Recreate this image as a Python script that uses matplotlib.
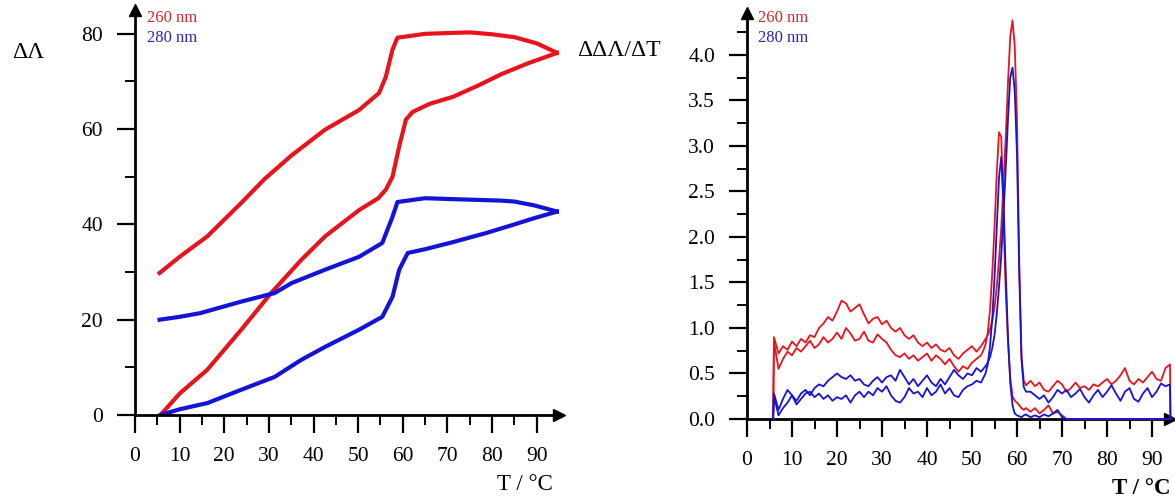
import numpy as np
import matplotlib
matplotlib.use("Agg")
import matplotlib.pyplot as plt

plt.rcParams['font.family'] = ['Liberation Serif', 'DejaVu Serif']

# left panel: absorbance change, heating and cooling runs
T_heat_260 = [5.7, 10, 16.2, 23.8, 30.5, 37.3, 42.6, 50.2, 54.5, 56.2, 57.7, 59.2, 60.7, 62.2, 66, 71.3, 77, 82, 88, 94.6]
A_heat_260 = [0, 4.5, 9.5, 17.9, 25.6, 32.6, 37.5, 43, 45.5, 47.3, 50, 56.4, 62, 63.6, 65.3, 66.8, 69.2, 71.5, 73.8, 76]
T_cool_260 = [94.6, 90, 85, 80, 75, 71.3, 65, 62, 58.8, 57.7, 56.2, 54.7, 50.2, 42.6, 35.1, 29, 23.8, 16.2, 10, 5.5]
A_cool_260 = [76, 78, 79.3, 79.9, 80.3, 80.2, 80, 79.6, 79.2, 76.7, 71, 67.6, 64, 59.9, 54.5, 49.5, 44.5, 37.5, 33.2, 29.8]
T_heat_280 = [5.7, 10, 16.2, 23.8, 31.3, 37.3, 42.6, 50.2, 55.4, 57.7, 59.2, 61.1, 65, 71.3, 78.7, 85, 89.4, 94.6]
A_heat_280 = [0, 1.2, 2.5, 5.3, 8.0, 11.6, 14.3, 17.9, 20.6, 24.8, 30.5, 34, 34.8, 36.3, 38.2, 40, 41.3, 42.7]
T_cool_280 = [94.6, 89.4, 85, 81.9, 71.3, 65, 58.8, 57.7, 55.4, 50.2, 42.6, 35.1, 31.3, 23.8, 14.7, 10, 5.5]
A_cool_280 = [42.7, 44, 44.8, 45, 45.3, 45.5, 44.7, 41.6, 36.1, 33.2, 30.5, 27.7, 25.6, 23.8, 21.4, 20.6, 20]

# right panel: first derivative, sampled on one temperature grid
T_d = np.concatenate([[5.8, 6.0], np.arange(7, 53), np.arange(52.5, 62.1, 0.5), np.arange(63, 95), [94.1]])

d_heat_260 = ([0.0, 0.90]
              + [0.72, 0.80, 0.76, 0.85, 0.80, 0.88, 0.84, 0.92, 0.90, 1.00,
                 1.05, 1.12, 1.08, 1.18, 1.30, 1.27, 1.18, 1.22, 1.26, 1.15,
                 1.05, 1.10, 1.12, 1.04, 1.08, 1.00, 0.96, 1.00, 0.92, 0.88,
                 0.92, 0.84, 0.80, 0.84, 0.78, 0.82, 0.76, 0.74, 0.78, 0.70,
                 0.66, 0.72, 0.76, 0.80, 0.74, 0.80]
              + [0.84, 0.88, 0.92, 0.98, 1.08, 1.22, 1.45, 1.75, 2.10, 2.60,
                 3.10, 3.70, 4.20, 4.38, 4.10, 3.30, 1.70, 0.70, 0.42, 0.37]
              + [0.42, 0.36, 0.40, 0.32, 0.30, 0.36, 0.42, 0.38, 0.30, 0.34,
                 0.40, 0.34, 0.36, 0.32, 0.38, 0.36, 0.40, 0.44, 0.38, 0.42,
                 0.48, 0.56, 0.42, 0.38, 0.44, 0.40, 0.46, 0.52, 0.44, 0.42,
                 0.56, 0.60]
              + [0.0])
d_cool_260 = ([0.0, 0.85]
              + [0.55, 0.66, 0.74, 0.70, 0.78, 0.74, 0.80, 0.86, 0.78, 0.82,
                 0.90, 0.84, 0.88, 0.95, 0.88, 1.00, 0.94, 0.86, 0.88, 0.96,
                 0.86, 0.84, 0.93, 0.88, 0.84, 0.76, 0.70, 0.68, 0.72, 0.66,
                 0.70, 0.64, 0.68, 0.72, 0.64, 0.70, 0.66, 0.60, 0.66, 0.58,
                 0.52, 0.58, 0.55, 0.62, 0.66, 0.70]
              + [0.75, 0.82, 0.95, 1.20, 1.60, 2.10, 2.70, 3.15, 3.10, 2.20,
                 1.40, 0.85, 0.45, 0.25, 0.20, 0.18, 0.15, 0.12, 0.10, 0.12]
              + [0.08, 0.12, 0.06, 0.10, 0.15, 0.06, 0.08, 0.04] + [0.0] * 24
              + [0.0])
d_heat_280 = ([0.0, 0.28]
              + [0.10, 0.22, 0.32, 0.26, 0.20, 0.28, 0.32, 0.26, 0.34, 0.38,
                 0.36, 0.42, 0.46, 0.50, 0.46, 0.44, 0.48, 0.42, 0.44, 0.38,
                 0.36, 0.42, 0.46, 0.40, 0.46, 0.48, 0.42, 0.54, 0.46, 0.38,
                 0.44, 0.36, 0.42, 0.48, 0.40, 0.36, 0.44, 0.38, 0.46, 0.54,
                 0.48, 0.44, 0.50, 0.48, 0.56, 0.52]
              + [0.55, 0.58, 0.62, 0.68, 0.78, 0.92, 1.15, 1.45, 1.80, 2.25,
                 2.75, 3.30, 3.75, 3.86, 3.60, 2.90, 1.60, 0.65, 0.35, 0.30]
              + [0.30, 0.26, 0.22, 0.26, 0.18, 0.24, 0.32, 0.28, 0.32, 0.24,
                 0.28, 0.33, 0.24, 0.18, 0.26, 0.32, 0.24, 0.30, 0.37, 0.28,
                 0.20, 0.30, 0.34, 0.22, 0.19, 0.28, 0.34, 0.24, 0.30, 0.39,
                 0.36, 0.38]
              + [0.0])
d_cool_280 = ([0.0, 0.25]
              + [0.04, 0.12, 0.18, 0.26, 0.16, 0.22, 0.28, 0.30, 0.24, 0.28,
                 0.22, 0.26, 0.20, 0.24, 0.22, 0.26, 0.18, 0.26, 0.30, 0.24,
                 0.30, 0.26, 0.34, 0.30, 0.36, 0.26, 0.20, 0.18, 0.24, 0.34,
                 0.28, 0.30, 0.24, 0.34, 0.26, 0.30, 0.38, 0.28, 0.34, 0.26,
                 0.24, 0.32, 0.36, 0.38, 0.42, 0.40]
              + [0.45, 0.50, 0.60, 0.80, 1.10, 1.55, 2.10, 2.65, 2.88, 2.40,
                 1.60, 0.90, 0.40, 0.15, 0.06, 0.04, 0.03, 0.02, 0.04, 0.05]
              + [0.02, 0.04, 0.02, 0.05, 0.03, 0.06, 0.10, 0.02] + [0.0] * 24
              + [0.0])

RED = '#e8141c'
BLUE = '#1414d8'
W, H = 1175, 500

fig = plt.figure(figsize=(11.75, 5), dpi=100)


def style_axis(ax, xmax, ymax, yticks, yminor, yfmt):
    ax.set_xlim(0, xmax)
    ax.set_ylim(0, ymax)
    for s in ['top', 'right']:
        ax.spines[s].set_visible(False)
    for s in ['left', 'bottom']:
        ax.spines[s].set_linewidth(2)
    ax.set_xticks(range(0, 91, 10))
    ax.set_xticks(range(5, 91, 10), minor=True)
    ax.set_yticks(yticks)
    ax.set_yticks(yminor, minor=True)
    ax.set_yticklabels([yfmt.format(v) for v in yticks])
    ax.tick_params(which='major', length=13, width=1.6, labelsize=15.5, pad=10)
    ax.tick_params(which='minor', length=7, width=1.4)
    ax.plot(1, 0, '>k', ms=8, transform=ax.transAxes, clip_on=False)
    ax.plot(0, 1, '^k', ms=8, transform=ax.transAxes, clip_on=False)


ax1 = fig.add_axes([135 / W, 85 / H, 424 / W, 405 / H])
style_axis(ax1, 95, 85, [0, 20, 40, 60, 80], [10, 30, 50, 70], '{:.0f}')
ax1.plot(T_heat_260, A_heat_260, color=RED, lw=3)
ax1.plot(T_cool_260, A_cool_260, color=RED, lw=3)
ax1.plot(T_heat_280, A_heat_280, color=BLUE, lw=3)
ax1.plot(T_cool_280, A_cool_280, color=BLUE, lw=3)

ax2 = fig.add_axes([747 / W, 81 / H, 423 / W, 406 / H])
style_axis(ax2, 94, 4.46, [0, 0.5, 1, 1.5, 2, 2.5, 3, 3.5, 4],
           [0.25, 0.75, 1.25, 1.75, 2.25, 2.75, 3.25, 3.75, 4.25], '{:.1f}')
ax2.plot(T_d, d_heat_260, color=RED, lw=1.3, zorder=3, clip_on=False)
ax2.plot(T_d, d_cool_260, color=RED, lw=1.3, zorder=3, clip_on=False)
ax2.plot(T_d, d_heat_280, color=BLUE, lw=1.3, zorder=3, clip_on=False)
ax2.plot(T_d, d_cool_280, color=BLUE, lw=1.3, zorder=3, clip_on=False)

fig.text(12 / W, 1 - 52 / H, 'ΔΛ', fontsize=17, va='center', ha='left')
fig.text(577 / W, 1 - 50 / H, 'ΔΔΛ/ΔT', fontsize=17, va='center', ha='left')
fig.text(553 / W, 1 - 485 / H, 'T / °C', fontsize=16.5, va='center', ha='right')
fig.text(1170 / W, 1 - 488 / H, 'T / °C', fontsize=16.5, va='center', ha='right', fontweight='bold')

fig.text(147 / W, 1 - 18 / H, '260 nm', fontsize=12, color='#d02828', va='center')
fig.text(147 / W, 1 - 38 / H, '280 nm', fontsize=12, color='#2828a8', va='center')
fig.text(758 / W, 1 - 18 / H, '260 nm', fontsize=12, color='#d02828', va='center')
fig.text(758 / W, 1 - 38 / H, '280 nm', fontsize=12, color='#2828a8', va='center')

fig.savefig('out.png', dpi=100)
